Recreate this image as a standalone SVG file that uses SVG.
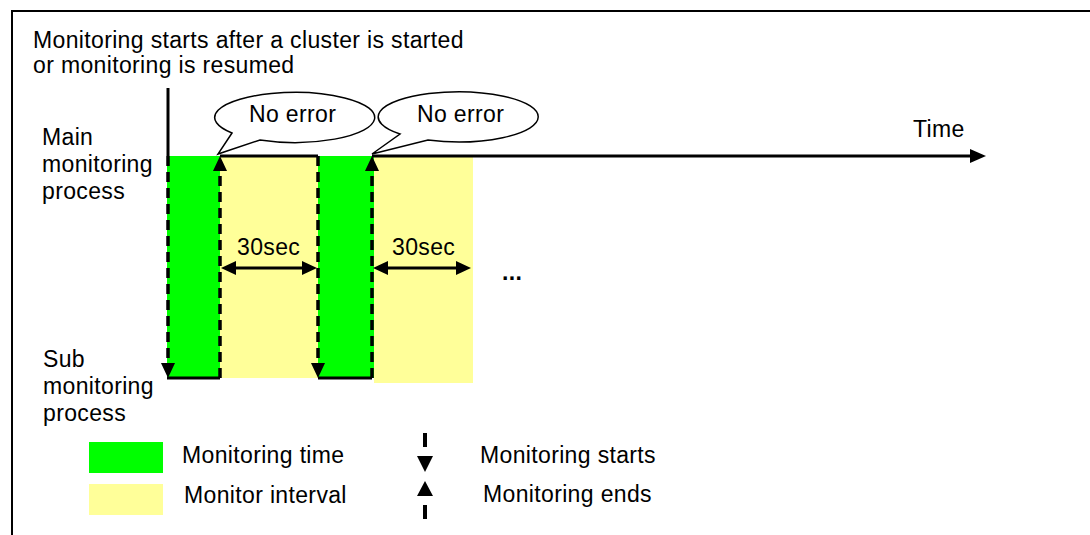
<svg xmlns="http://www.w3.org/2000/svg" width="1090" height="535" viewBox="0 0 1090 535">
<style>
text{font-family:"Liberation Sans",Arial,sans-serif;font-size:23px;letter-spacing:0.35px;fill:#000}
.green{fill:#00ff00}
.yellow{fill:#ffff99}
.solid{stroke:#000;stroke-width:3;fill:none}
.dash{stroke:#000;stroke-width:3.5;fill:none;stroke-dasharray:10 6}
.head{fill:#000}
.bubble{fill:#fff;stroke:#000;stroke-width:1.5}
</style>
<rect x="12" y="11" width="1090" height="540" fill="#fff" stroke="#000" stroke-width="2"/>
<g id="title">
<text x="33" y="48">Monitoring starts after a cluster is started</text>
<text x="33" y="73">or monitoring is resumed</text>
</g>
<g id="main-label">
<text x="42" y="145">Main</text>
<text x="42" y="172">monitoring</text>
<text x="42" y="199">process</text>
</g>
<g id="sub-label">
<text x="43" y="367">Sub</text>
<text x="43" y="394">monitoring</text>
<text x="43" y="421">process</text>
</g>
<g id="periods">
<rect id="mon1" class="green" x="167" y="156" width="53" height="222"/>
<rect id="int1" class="yellow" x="220" y="156" width="98" height="222"/>
<rect id="mon2" class="green" x="318" y="156" width="56" height="222"/>
<rect id="int2" class="yellow" x="374" y="156" width="99" height="227"/>
</g>
<g id="connectors">
<line class="solid" x1="168" y1="88" x2="168" y2="156"/>
<line class="dash" x1="168" y1="156" x2="168" y2="364"/>
<polygon class="head" points="161,363 175,363 168,378"/>
<line class="dash" x1="220" y1="378" x2="220" y2="170"/>
<polygon class="head" points="213,171 227,171 220,156"/>
<line class="dash" x1="318" y1="156" x2="318" y2="364"/>
<polygon class="head" points="311,363 325,363 318,378"/>
<line class="dash" x1="372" y1="378" x2="372" y2="170"/>
<polygon class="head" points="365,171 379,171 372,156"/>
<path class="solid" d="M167,378H220M318,378H372"/>
<path class="solid" d="M220,156H318M372,156H972"/>
<polygon class="head" points="970,149 986,156 970,163"/>
<line class="solid" x1="234" y1="268" x2="304" y2="268"/>
<polygon class="head" points="236,261 221,268 236,275"/>
<polygon class="head" points="302,261 317,268 302,275"/>
<line class="solid" x1="386" y1="268" x2="458" y2="268"/>
<polygon class="head" points="388,261 373,268 388,275"/>
<polygon class="head" points="456,261 471,268 456,275"/>
</g>
<g id="interval-labels">
<text x="237" y="255">30sec</text>
<text x="392" y="255">30sec</text>
<text x="502" y="280" font-size="24" font-weight="bold" letter-spacing="2.5">...</text>
<text x="913" y="137">Time</text>
</g>
<g id="bubble1">
<path class="bubble" d="M232,133 A80,25 0 1 1 260,140 L218,154 Z"/>
<text x="249" y="122">No error</text>
</g>
<g id="bubble2">
<path class="bubble" d="M400,134 A80,25 0 1 1 428,140 L372,154 Z"/>
<text x="417" y="122">No error</text>
</g>
<g id="legend">
<rect class="green" x="89" y="442" width="74" height="31"/>
<rect class="yellow" x="89" y="484" width="74" height="31"/>
<text x="182" y="463">Monitoring time</text>
<text x="184" y="503">Monitor interval</text>
<rect x="423" y="433" width="4" height="14" fill="#000"/>
<polygon class="head" points="417,456 433,456 425,472"/>
<polygon class="head" points="417,496 433,496 425,481"/>
<rect x="423" y="505" width="4" height="14" fill="#000"/>
<text x="480" y="463">Monitoring starts</text>
<text x="483" y="502">Monitoring ends</text>
</g>
</svg>
